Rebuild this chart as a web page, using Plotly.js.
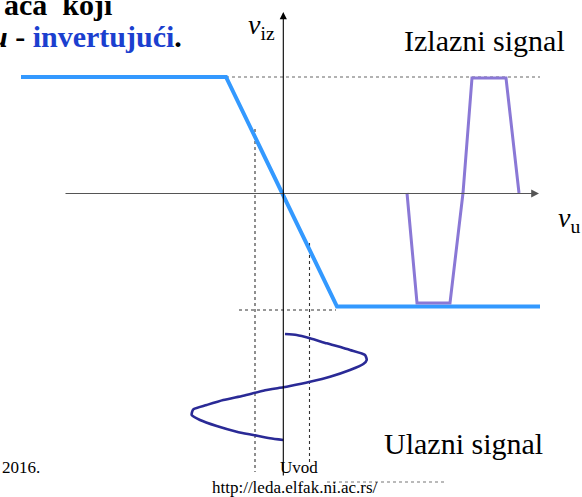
<!DOCTYPE html>
<html><head><meta charset="utf-8">
<script src="https://cdn.plot.ly/plotly-3.0.1.min.js"></script>
<style>html,body{margin:0;padding:0;background:#fff;}#chart{width:582px;height:497px;}</style>
</head><body><div id="chart"></div>
<script>
// Transfer characteristic (inverting), pixel-space coordinates of the drawing
const transferX = [21, 226, 337, 540];
const transferY = [77, 77, 306.5, 306.5];
// Output signal (clipped, purple)
const outX = [407, 417, 450, 463, 472, 506, 519];
const outY = [193, 303, 303, 193, 78, 78, 193];
// Input signal (sine along vertical time axis)
const inX = [285, 296.7, 310, 326.7, 350, 365, 366.7, 363.3, 350, 330, 310, 290, 283.3, 263.3, 243.3, 223.3, 206.7, 193.3, 191.7, 200, 216.7, 236.7, 253.3, 270, 283.3];
const inY = [334, 335, 338.3, 343.3, 350, 355, 360, 364, 370, 376.7, 381.7, 386, 387.3, 390.7, 395.7, 400, 405, 409.3, 415, 420, 426, 431.7, 435, 438.3, 440];
// Guide (dashed) lines
const guideTopX = [226, 540], guideTopY = [77, 77];
const guideLeftX = [255, 255], guideLeftY = [129, 472];
const guideRightX = [309.5, 309.5], guideRightY = [243, 465];
const guideBottomX = [239, 336], guideBottomY = [310, 310];
const footerX = [327, 445], footerY = [482, 482];
// Axes
const hAxisX = [64, 539], hAxisY = [193.5, 193.5];
const vAxisX = [283.3, 283.3], vAxisY = [477, 12];

const dash = (x, y, c) => ({x, y, mode: 'lines', line: {color: c, width: 1.1, dash: '3px,3px'}, hoverinfo: 'skip'});
const traces = [
  dash(guideTopX, guideTopY, '#666'),
  dash(guideLeftX, guideLeftY, '#333'),
  dash(guideRightX, guideRightY, '#333'),
  dash(guideBottomX, guideBottomY, '#333'),
  dash(footerX, footerY, '#777'),
  {x: transferX, y: transferY, mode: 'lines', line: {color: '#3399ff', width: 4}},
  {x: outX, y: outY, mode: 'lines', line: {color: '#8a78d6', width: 3}},
  {x: inX, y: inY, mode: 'lines', line: {color: '#2a2a96', width: 2.6, shape: 'spline', smoothing: 0.6}},
];

const serif = "'Liberation Serif', 'Times New Roman', serif";
const ann = (x, y, text, size, xa) => ({x, y, xref: 'x', yref: 'y', text, showarrow: false, xanchor: xa, yanchor: 'middle', font: {family: serif, size, color: '#000'}});
const layout = {
  width: 582, height: 497, margin: {l: 0, r: 0, t: 0, b: 0},
  paper_bgcolor: '#fff', plot_bgcolor: '#fff', showlegend: false,
  xaxis: {range: [0, 582], visible: false, fixedrange: true},
  yaxis: {range: [497, 0], visible: false, fixedrange: true},
  annotations: [
    {x: hAxisX[1], y: hAxisY[1], ax: hAxisX[0], ay: hAxisY[0], xref: 'x', yref: 'y', axref: 'x', ayref: 'y', showarrow: true, arrowhead: 2, arrowsize: 1.3, arrowwidth: 1.2, arrowcolor: '#555', text: ''},
    {x: vAxisX[1], y: vAxisY[1], ax: vAxisX[0], ay: vAxisY[0], xref: 'x', yref: 'y', axref: 'x', ayref: 'y', showarrow: true, arrowhead: 2, arrowsize: 1.3, arrowwidth: 1.1, arrowcolor: '#000', text: ''},
    ann(114, 4, '<b>ača  koji</b>', 30, 'right'),
    ann(184, 36, '<b><i>u</i> - <span style="color:#1b3fcf">invertujući</span>.</b>', 30, 'right'),
    ann(277, 26, '<i>v</i><sub>iz</sub>', 28, 'right'),
    ann(582, 219, '<i>v</i><sub>u</sub>', 28, 'right'),
    ann(402, 40, 'Izlazni signal', 30, 'left'),
    ann(382, 443, 'Ulazni signal', 30, 'left'),
    ann(0, 467, '2016.', 17, 'left'),
    ann(278, 467, 'Uvod', 17, 'left'),
    ann(210, 487, 'http://leda.elfak.ni.ac.rs/', 17, 'left'),
  ]
};
Plotly.newPlot('chart', traces, layout, {staticPlot: true, displayModeBar: false});
</script></body></html>
